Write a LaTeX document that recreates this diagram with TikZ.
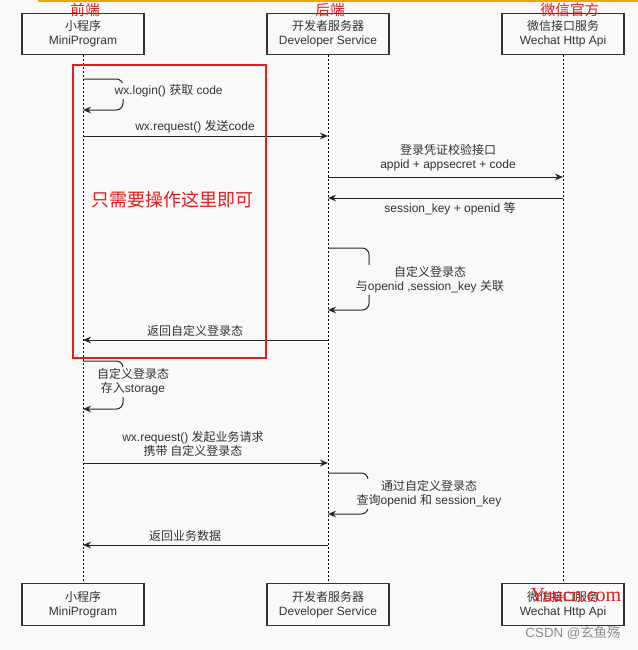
\documentclass[tikz,border=0pt]{standalone}
\usepackage{fontspec}
\setmainfont{Liberation Sans}
\newfontfamily\cjk{Noto Sans CJK SC}
\newfontfamily\wmserif{Liberation Serif}
\usepackage{xcolor}
\usetikzlibrary{arrows.meta, positioning, calc}

\definecolor{bgcol}{RGB}{249,249,249}
\definecolor{txtcol}{RGB}{51,51,51}
\definecolor{hlred}{RGB}{230,28,28}
\definecolor{topline}{RGB}{240,163,10}
\newcommand{\zhtext}[1]{{\cjk #1}}

\begin{document}
\begin{tikzpicture}[
        x=0.75pt, y=-0.75pt,
        font=\fontsize{9}{10.5}\selectfont,
        every node/.style={align=center, text=txtcol},
        actor/.style={rectangle, draw=black!80, fill=bgcol, line width=0.9pt,
                      minimum width=91.5pt, minimum height=31pt, inner sep=2pt},
        lifeline/.style={black, line width=0.6pt, dash pattern=on 1.5pt off 1.5pt},
        msg/.style={-{Stealth[length=6pt, width=5pt]}, line width=0.75pt, black!85},
        selfmsg/.style={msg, rounded corners=5pt},
        lbl/.style={inner sep=1pt},
        looplbl/.style={inner sep=1pt, fill=bgcol},
        side/.style={text=hlred, font=\cjk\fontsize{11}{13}\selectfont, inner sep=0pt}
    ]
        % canvas
        \fill[bgcol] (0,0) rectangle (638,650);
        \useasboundingbox (0,0) rectangle (638,650);
        \draw[topline, line width=1.5pt] (38,1) -- (638,1);

        % Participants (top and bottom)
        \node[actor] (mpT) at (83,34) {\zhtext{小程序}\\MiniProgram};
        \node[actor] (devT) at (328,34) {\zhtext{开发者服务器}\\Developer Service};
        \node[actor] (wxT) at (563,34) {\zhtext{微信接口服务}\\Wechat Http Api};
        \node[actor] (mpB) at (83,604.5) {\zhtext{小程序}\\MiniProgram};
        \node[actor] (devB) at (328,604.5) {\zhtext{开发者服务器}\\Developer Service};
        \node[actor] (wxB) at (563,604.5) {\zhtext{微信接口服务}\\Wechat Http Api};

        % Side headings
        \node[side] (front) at (85,10) {前端};
        \node[side] (back) at (330,10) {后端};
        \node[side] (official) at (570,10) {微信官方};

        % Lifelines
        \draw[lifeline] (mpT) -- (mpB);
        \draw[lifeline] (devT) -- (devB);
        \draw[lifeline] (wxT) -- (wxB);

        % Points on the lifelines
        \coordinate (loginS) at (83,79);   \coordinate (loginE) at (83,110);
        \coordinate (reqS) at (83,136);    \coordinate (reqE) at (328,136);
        \coordinate (chkS) at (328,177);   \coordinate (chkE) at (563,177);
        \coordinate (keyS) at (563,198);   \coordinate (keyE) at (328,198);
        \coordinate (bindS) at (328,248);  \coordinate (bindE) at (328,310);
        \coordinate (retS) at (328,340);   \coordinate (retE) at (83,340);
        \coordinate (saveS) at (83,361);   \coordinate (saveE) at (83,409);
        \coordinate (bizS) at (83,463);    \coordinate (bizE) at (328,463);
        \coordinate (qryS) at (328,473);   \coordinate (qryE) at (328,514);
        \coordinate (dataS) at (328,545);  \coordinate (dataE) at (83,545);

        % Login part (highlighted)
        \draw[selfmsg] (loginS) -- ++(40,0) |- (loginE);
        \node[looplbl, anchor=west] (loginT) at (113,91) {wx.login() \zhtext{获取} code};

        \draw[msg] (reqS) -- (reqE);
        \node[lbl] (reqT) at (195,127) {wx.request() \zhtext{发送}code};

        \draw[msg] (chkS) -- (chkE);
        \node[lbl] (chkT) at (448,158) {\zhtext{登录凭证校验接口}\\appid + appsecret + code};

        \draw[msg] (keyS) -- (keyE);
        \node[lbl] (keyT) at (450,209) {session\_key + openid \zhtext{等}};

        \draw[selfmsg] (bindS) -- ++(41,0) |- (bindE);
        \node[looplbl] (bindT) at (430,280) {\zhtext{自定义登录态}\\\zhtext{与}openid ,session\_key \zhtext{关联}};

        \draw[msg] (retS) -- (retE);
        \node[lbl] (retT) at (195,331) {\zhtext{返回自定义登录态}};

        % highlight box
        \draw[hlred, line width=2.2pt] (73,65) rectangle (266,358);
        \node[text=hlred, font=\cjk\fontsize{13.5}{16}\selectfont] (hint) at (172,200) {只需要操作这里即可};

        % Business request part
        \draw[selfmsg] (saveS) -- ++(40,0) |- (saveE);
        \node[looplbl] (saveT) at (133,382) {\zhtext{自定义登录态}\\\zhtext{存入}storage};

        \draw[msg] (bizS) -- (bizE);
        \node[lbl] (bizT) at (193,444) {wx.request() \zhtext{发起业务请求}\\\zhtext{携带 自定义登录态}};

        \draw[selfmsg] (qryS) -- ++(40,0) |- (qryE);
        \node[looplbl] (qryT) at (429,494) {\zhtext{通过自定义登录态}\\\zhtext{查询}openid \zhtext{和} session\_key};

        \draw[msg] (dataS) -- (dataE);
        \node[lbl] (dataT) at (185,536) {\zhtext{返回业务数据}};

        % watermarks
        \node[text=hlred, font=\wmserif\fontsize{15}{15}\selectfont, inner sep=0pt] (wmark) at (576,595) {Yuucn.com};
        \node[text=black!45, font=\fontsize{10}{12}\selectfont, inner sep=0pt] (csdn) at (573,633) {CSDN @\zhtext{玄鱼殇}};
\end{tikzpicture}
\end{document}
